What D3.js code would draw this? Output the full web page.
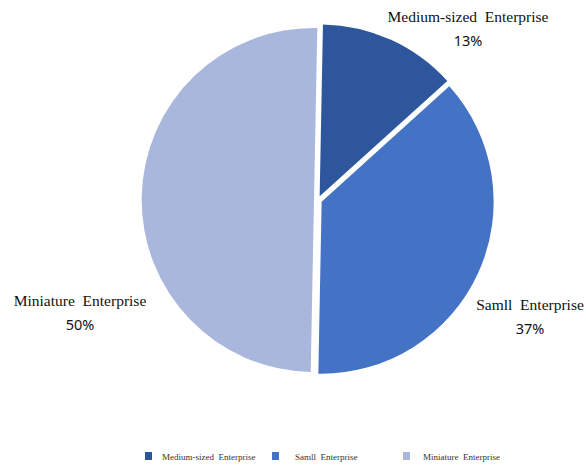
<!DOCTYPE html>
<html>
<head>
<meta charset="utf-8">
<script src="https://cdn.jsdelivr.net/npm/d3@7/dist/d3.min.js"></script>
<style>
  body { margin: 0; background: #fff; }
  text { white-space: pre; }
</style>
</head>
<body>
<div id="chart"></div>
<script>
// data
var categories = ["Medium-sized  Enterprise", "Samll  Enterprise", "Miniature  Enterprise"];
var legendLabels = ["Medium-sized  Enterprise", "Samll  Enterprise", "Miniature  Enterprise"];
var values = [13, 37, 50];
var colors = ["#2e569c", "#4472c4", "#aab7dc"];

var width = 586, height = 465;
var cx = 318, cy = 200, radius = 172, explode = 4;

var svg = d3.select("#chart").append("svg")
    .attr("width", width)
    .attr("height", height);

var data = categories.map(function(c, i) {
  return { name: c, value: values[i], color: colors[i] };
});

// slight clockwise tilt, as in the picture
var tilt = 1.1 * Math.PI / 180;
var pie = d3.pie().sort(null).value(function(d) { return d.value; })
    .startAngle(tilt).endAngle(2 * Math.PI + tilt);
var arc = d3.arc().innerRadius(0).outerRadius(radius);

var g = svg.append("g").attr("transform", "translate(" + cx + "," + cy + ")");

g.selectAll("path")
    .data(pie(data))
    .enter()
    .append("path")
    .attr("d", arc)
    .attr("fill", function(d) { return d.data.color; })
    .attr("transform", function(d) {
      var a = (d.startAngle + d.endAngle) / 2;
      return "translate(" + (explode * Math.sin(a)) + "," + (-explode * Math.cos(a)) + ")";
    });

// data labels (position for each slice)
var labelPos = [
  { x: 468, y: 22 },
  { x: 530, y: 310 },
  { x: 80, y: 306 }
];

var labels = svg.selectAll(".lbl")
    .data(data)
    .enter()
    .append("g")
    .attr("class", "lbl")
    .attr("transform", function(d, i) { return "translate(" + labelPos[i].x + "," + labelPos[i].y + ")"; });

labels.append("text")
    .attr("text-anchor", "middle")
    .attr("font-family", "'Liberation Serif', 'DejaVu Serif', serif")
    .attr("font-size", 15.5)
    .attr("fill", "#111")
    .text(function(d) { return d.name; });

labels.append("text")
    .attr("text-anchor", "middle")
    .attr("y", 24)
    .attr("font-family", "'Noto Sans', 'Open Sans', sans-serif")
    .attr("font-size", 14.5)
    .attr("fill", "#111")
    .text(function(d) { return d.value + "%"; });

// legend
var legendX = [145, 272, 403];
var legend = svg.selectAll(".leg")
    .data(data)
    .enter()
    .append("g")
    .attr("class", "leg")
    .attr("transform", function(d, i) { return "translate(" + legendX[i] + ",452)"; });

legend.append("rect")
    .attr("width", 7)
    .attr("height", 8)
    .attr("fill", function(d) { return d.color; });

legend.append("text")
    .attr("x", function(d, i) { return [17, 23, 20][i]; })
    .attr("y", 7.5)
    .attr("font-family", "'Liberation Serif', 'DejaVu Serif', serif")
    .attr("font-size", 9)
    .attr("fill", "#333")
    .text(function(d, i) { return legendLabels[i]; });
</script>
</body>
</html>
